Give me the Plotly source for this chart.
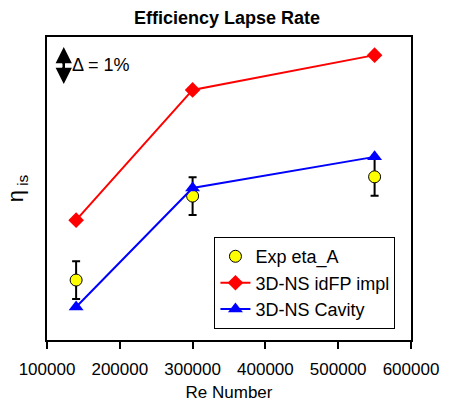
import plotly.graph_objects as go

re_numbers = [140000, 300000, 550000]
exp_eta = [1.62, 3.89, 4.41]
exp_err = [0.51, 0.51, 0.51]
ns_idfp = [3.24, 6.76, 7.70]
ns_cavity = [0.89, 4.11, 4.95]
x_ticks = [100000, 200000, 300000, 400000, 500000, 600000]

font = "Liberation Sans, Arial, sans-serif"

fig = go.Figure()
fig.add_trace(go.Scatter(
    x=re_numbers, y=exp_eta, mode="markers", name="Exp eta_A",
    marker=dict(symbol="circle", size=12, color="#ffff00", line=dict(color="black", width=1)),
    error_y=dict(type="data", array=exp_err, color="black", thickness=2, width=4),
))
fig.add_trace(go.Scatter(
    x=re_numbers, y=ns_idfp, mode="lines+markers", name="3D-NS idFP impl",
    line=dict(color="#ff0000", width=2),
    marker=dict(symbol="diamond", size=12, color="#ff0000"),
))
fig.add_trace(go.Scatter(
    x=re_numbers, y=ns_cavity, mode="lines+markers", name="3D-NS Cavity",
    line=dict(color="#0000ff", width=2),
    marker=dict(symbol="triangle-up", size=13, color="#0000ff"),
))

# Delta = 1% scale arrow (in data units): two half arrows from the middle
arrow_x = 123000
arrow_lo, arrow_hi = 6.92, 7.92
arrow_mid = (arrow_lo + arrow_hi) / 2
fig.add_shape(type="line", xref="x", yref="y", x0=arrow_x, x1=arrow_x,
              y0=arrow_lo + 0.2, y1=arrow_hi - 0.2, line=dict(color="black", width=2.5))
for tip in (arrow_hi, arrow_lo):
    fig.add_annotation(x=arrow_x, y=tip, ax=arrow_x, ay=arrow_mid, xref="x", yref="y",
                       axref="x", ayref="y", text="", showarrow=True,
                       arrowhead=2, arrowsize=1.3, arrowwidth=2.5,
                       arrowcolor="black", standoff=0, startstandoff=0)
fig.add_annotation(x=131500, y=arrow_mid, xref="x", yref="y", text="Δ = 1%",
                   showarrow=False, xanchor="left", yanchor="middle",
                   font=dict(size=18, color="black", family=font))

fig.update_layout(
    width=454, height=402,
    margin=dict(l=47, r=43, t=37, b=62),
    paper_bgcolor="white", plot_bgcolor="white",
    font=dict(family=font, size=17, color="black"),
    title=dict(text="<b>Efficiency Lapse Rate</b>", x=0.5, xanchor="center",
               y=0.957, yanchor="middle", font=dict(size=18, family=font)),
    xaxis=dict(range=[100000, 600000], tickvals=x_ticks, tickformat="d",
               ticks="outside", ticklen=7, tickwidth=2, tickcolor="black",
               ticklabelstandoff=6, automargin=False,
               showline=True, linewidth=2, linecolor="black", mirror=True,
               showgrid=False, zeroline=False,
               tickfont=dict(size=17),
               title=dict(text="Re Number", font=dict(size=17))),
    yaxis=dict(range=[0, 8.19], showticklabels=False, ticks="",
               showline=True, linewidth=2, linecolor="black", mirror=True,
               showgrid=False, zeroline=False, automargin=False,
               title=dict(text="η<sub> is</sub>", font=dict(size=22))),
    legend=dict(x=0.46, y=0.036, xanchor="left", yanchor="bottom",
                bgcolor="white", bordercolor="black", borderwidth=1,
                font=dict(size=18, family=font), tracegroupgap=0, itemwidth=30),
    showlegend=True,
)

fig.write_html("out.html")
